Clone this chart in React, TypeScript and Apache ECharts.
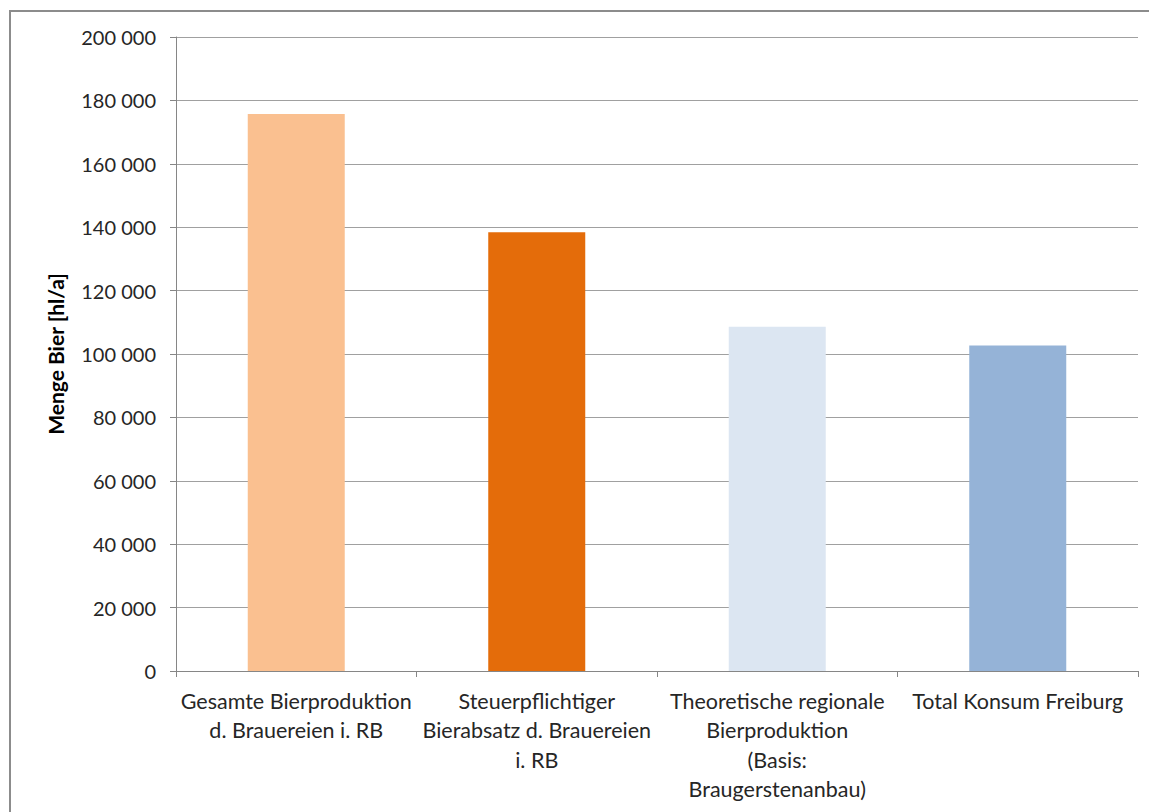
import React, { useEffect, useRef } from "react";
import * as echarts from "echarts";

const categories = [
  "Gesamte Bierproduktion\nd. Brauereien i. RB",
  "Steuerpflichtiger\nBierabsatz d. Brauereien\ni. RB",
  "Theoretische regionale\nBierproduktion\n(Basis:\nBraugerstenanbau)",
  "Total Konsum Freiburg",
];
const values = [175700, 138400, 108600, 102700];
const barColors = ["#FAC090", "#E46C0A", "#DCE6F2", "#95B3D7"];
const yAxisTitle = "Menge Bier [hl/a]";

const fmt = (v: number) => {
  const s = String(Math.round(v));
  return s.replace(/\B(?=(\d{3})+(?!\d))/g, " ");
};

export default function App() {
  const ref = useRef<HTMLDivElement>(null);
  useEffect(() => {
    if (!ref.current) return;
    const chart = echarts.init(ref.current, undefined, { renderer: "svg" });
    const font = "Lato, 'Open Sans', sans-serif";
    chart.setOption({
      animation: false,
      backgroundColor: "#ffffff",
      textStyle: { fontFamily: font },
      grid: { left: 176, right: 11, top: 37, bottom: 141, containLabel: false },
      graphic: [
        {
          type: "rect",
          shape: { x: 10, y: 11, width: 1300, height: 1000 },
          style: { fill: "none", stroke: "#8c8c8c", lineWidth: 2 },
          silent: true,
        },
      ],
      xAxis: {
        type: "category",
        data: categories,
        axisLine: { show: true, lineStyle: { color: "#868686", width: 1 } },
        axisTick: { show: true, alignWithLabel: false, length: 6, lineStyle: { color: "#868686" } },
        axisLabel: {
          interval: 0,
          color: "#262626",
          fontSize: 21.5,
          lineHeight: 29.5,
          margin: 15,
          fontFamily: font,
          align: "center",
        },
      },
      yAxis: {
        type: "value",
        min: 0,
        max: 200000,
        interval: 20000,
        name: yAxisTitle,
        nameLocation: "middle",
        nameGap: 110,
        nameRotate: 90,
        nameTextStyle: { color: "#000", fontSize: 21, fontWeight: "bold", fontFamily: font },
        axisLine: { show: true, lineStyle: { color: "#868686", width: 1 } },
        axisTick: { show: true, inside: false, length: 6, lineStyle: { color: "#868686" } },
        axisLabel: {
          color: "#262626",
          fontSize: 20,
          margin: 20,
          fontFamily: font,
          formatter: (v: number) => fmt(v),
        },
        splitLine: { show: true, lineStyle: { color: "#A0A0A0", width: 1 } },
      },
      series: [
        {
          type: "bar",
          data: values.map((v, i) => ({ value: v, itemStyle: { color: barColors[i] } })),
          barWidth: 97,
        },
      ],
    });
    return () => chart.dispose();
  }, []);
  return (
    <div
      ref={ref}
      style={{ position: "fixed", left: 0, top: 0, width: 1149, height: 812 }}
    />
  );
}
